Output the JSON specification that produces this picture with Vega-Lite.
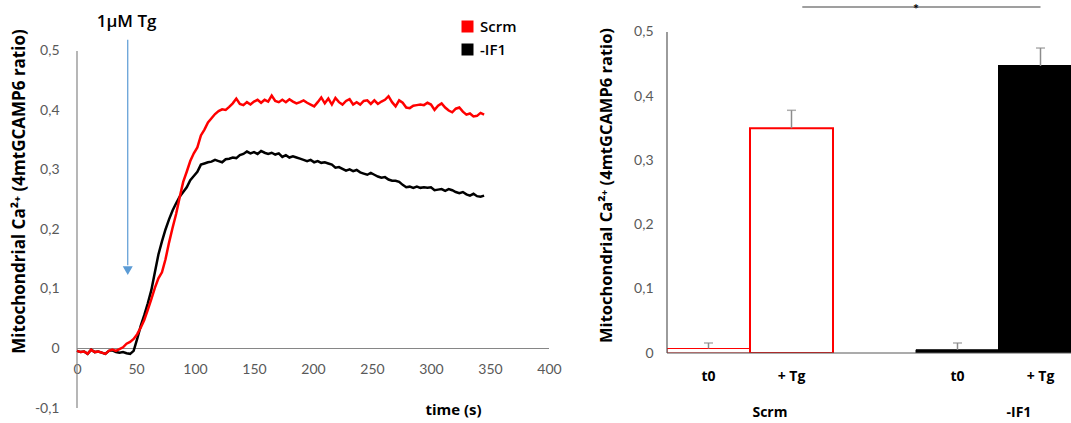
{
  "$schema": "https://vega.github.io/schema/vega-lite/v6.json",
  "padding": {"left": 10, "top": 0, "right": 0, "bottom": 0},
  "autosize": {"type": "pad"},
  "bounds": "flush",
  "spacing": 118,
  "config": {"view": {"stroke": null}, "font": "Lato"},
  "datasets": {
    "trace": [
      {"series":"-IF1","t":0,"v":-0.004},{"series":"-IF1","t":3,"v":-0.006},{"series":"-IF1","t":6,"v":-0.005},{"series":"-IF1","t":9,"v":-0.009},{"series":"-IF1","t":12,"v":-0.002},{"series":"-IF1","t":15,"v":-0.006},{"series":"-IF1","t":18,"v":-0.005},{"series":"-IF1","t":21,"v":-0.007},{"series":"-IF1","t":24,"v":-0.009},{"series":"-IF1","t":27,"v":-0.004},{"series":"-IF1","t":30,"v":-0.003},{"series":"-IF1","t":33,"v":-0.006},{"series":"-IF1","t":36,"v":-0.007},{"series":"-IF1","t":39,"v":-0.006},{"series":"-IF1","t":42,"v":-0.008},{"series":"-IF1","t":45,"v":-0.009},{"series":"-IF1","t":48,"v":-0.004},{"series":"-IF1","t":51,"v":0.016},{"series":"-IF1","t":54,"v":0.038},{"series":"-IF1","t":57,"v":0.056},{"series":"-IF1","t":60,"v":0.076},{"series":"-IF1","t":63,"v":0.098},{"series":"-IF1","t":66,"v":0.128},{"series":"-IF1","t":69,"v":0.158},{"series":"-IF1","t":72,"v":0.18},{"series":"-IF1","t":75,"v":0.2},{"series":"-IF1","t":78,"v":0.217},{"series":"-IF1","t":81,"v":0.232},{"series":"-IF1","t":84,"v":0.244},{"series":"-IF1","t":87,"v":0.255},{"series":"-IF1","t":90,"v":0.263},{"series":"-IF1","t":93,"v":0.271},{"series":"-IF1","t":96,"v":0.283},{"series":"-IF1","t":99,"v":0.29},{"series":"-IF1","t":102,"v":0.297},{"series":"-IF1","t":105,"v":0.309},{"series":"-IF1","t":108,"v":0.311},{"series":"-IF1","t":111,"v":0.313},{"series":"-IF1","t":114,"v":0.314},{"series":"-IF1","t":117,"v":0.317},{"series":"-IF1","t":120,"v":0.315},{"series":"-IF1","t":123,"v":0.313},{"series":"-IF1","t":126,"v":0.318},{"series":"-IF1","t":129,"v":0.319},{"series":"-IF1","t":132,"v":0.321},{"series":"-IF1","t":135,"v":0.32},{"series":"-IF1","t":138,"v":0.325},{"series":"-IF1","t":141,"v":0.327},{"series":"-IF1","t":144,"v":0.331},{"series":"-IF1","t":147,"v":0.328},{"series":"-IF1","t":150,"v":0.33},{"series":"-IF1","t":153,"v":0.327},{"series":"-IF1","t":156,"v":0.332},{"series":"-IF1","t":159,"v":0.329},{"series":"-IF1","t":162,"v":0.327},{"series":"-IF1","t":165,"v":0.329},{"series":"-IF1","t":168,"v":0.326},{"series":"-IF1","t":171,"v":0.328},{"series":"-IF1","t":174,"v":0.322},{"series":"-IF1","t":177,"v":0.325},{"series":"-IF1","t":180,"v":0.321},{"series":"-IF1","t":183,"v":0.323},{"series":"-IF1","t":186,"v":0.321},{"series":"-IF1","t":189,"v":0.319},{"series":"-IF1","t":192,"v":0.317},{"series":"-IF1","t":195,"v":0.315},{"series":"-IF1","t":198,"v":0.317},{"series":"-IF1","t":201,"v":0.313},{"series":"-IF1","t":204,"v":0.315},{"series":"-IF1","t":207,"v":0.312},{"series":"-IF1","t":210,"v":0.313},{"series":"-IF1","t":213,"v":0.311},{"series":"-IF1","t":216,"v":0.309},{"series":"-IF1","t":219,"v":0.304},{"series":"-IF1","t":222,"v":0.305},{"series":"-IF1","t":225,"v":0.302},{"series":"-IF1","t":228,"v":0.299},{"series":"-IF1","t":231,"v":0.301},{"series":"-IF1","t":234,"v":0.298},{"series":"-IF1","t":237,"v":0.3},{"series":"-IF1","t":240,"v":0.296},{"series":"-IF1","t":243,"v":0.294},{"series":"-IF1","t":246,"v":0.292},{"series":"-IF1","t":249,"v":0.295},{"series":"-IF1","t":252,"v":0.292},{"series":"-IF1","t":255,"v":0.289},{"series":"-IF1","t":258,"v":0.287},{"series":"-IF1","t":261,"v":0.288},{"series":"-IF1","t":264,"v":0.284},{"series":"-IF1","t":267,"v":0.282},{"series":"-IF1","t":270,"v":0.282},{"series":"-IF1","t":273,"v":0.28},{"series":"-IF1","t":276,"v":0.275},{"series":"-IF1","t":279,"v":0.271},{"series":"-IF1","t":282,"v":0.272},{"series":"-IF1","t":285,"v":0.27},{"series":"-IF1","t":288,"v":0.272},{"series":"-IF1","t":291,"v":0.27},{"series":"-IF1","t":294,"v":0.271},{"series":"-IF1","t":297,"v":0.27},{"series":"-IF1","t":300,"v":0.271},{"series":"-IF1","t":303,"v":0.266},{"series":"-IF1","t":306,"v":0.267},{"series":"-IF1","t":309,"v":0.268},{"series":"-IF1","t":312,"v":0.265},{"series":"-IF1","t":315,"v":0.268},{"series":"-IF1","t":318,"v":0.266},{"series":"-IF1","t":321,"v":0.263},{"series":"-IF1","t":324,"v":0.261},{"series":"-IF1","t":327,"v":0.263},{"series":"-IF1","t":330,"v":0.259},{"series":"-IF1","t":333,"v":0.257},{"series":"-IF1","t":336,"v":0.26},{"series":"-IF1","t":339,"v":0.256},{"series":"-IF1","t":342,"v":0.255},{"series":"-IF1","t":345,"v":0.257},
      {"series":"Scrm","t":0,"v":-0.004},{"series":"Scrm","t":3,"v":-0.006},{"series":"Scrm","t":6,"v":-0.005},{"series":"Scrm","t":9,"v":-0.009},{"series":"Scrm","t":12,"v":-0.002},{"series":"Scrm","t":15,"v":-0.006},{"series":"Scrm","t":18,"v":-0.005},{"series":"Scrm","t":21,"v":-0.007},{"series":"Scrm","t":24,"v":-0.009},{"series":"Scrm","t":27,"v":-0.004},{"series":"Scrm","t":30,"v":-0.002},{"series":"Scrm","t":33,"v":-0.004},{"series":"Scrm","t":36,"v":-0.001},{"series":"Scrm","t":39,"v":0.002},{"series":"Scrm","t":42,"v":0.008},{"series":"Scrm","t":45,"v":0.011},{"series":"Scrm","t":48,"v":0.016},{"series":"Scrm","t":51,"v":0.024},{"series":"Scrm","t":54,"v":0.035},{"series":"Scrm","t":57,"v":0.048},{"series":"Scrm","t":60,"v":0.065},{"series":"Scrm","t":63,"v":0.083},{"series":"Scrm","t":66,"v":0.102},{"series":"Scrm","t":69,"v":0.118},{"series":"Scrm","t":72,"v":0.128},{"series":"Scrm","t":75,"v":0.15},{"series":"Scrm","t":78,"v":0.178},{"series":"Scrm","t":81,"v":0.203},{"series":"Scrm","t":84,"v":0.226},{"series":"Scrm","t":87,"v":0.254},{"series":"Scrm","t":90,"v":0.28},{"series":"Scrm","t":93,"v":0.297},{"series":"Scrm","t":96,"v":0.315},{"series":"Scrm","t":99,"v":0.328},{"series":"Scrm","t":102,"v":0.338},{"series":"Scrm","t":105,"v":0.358},{"series":"Scrm","t":108,"v":0.368},{"series":"Scrm","t":111,"v":0.38},{"series":"Scrm","t":114,"v":0.387},{"series":"Scrm","t":117,"v":0.394},{"series":"Scrm","t":120,"v":0.399},{"series":"Scrm","t":123,"v":0.402},{"series":"Scrm","t":126,"v":0.401},{"series":"Scrm","t":129,"v":0.406},{"series":"Scrm","t":132,"v":0.412},{"series":"Scrm","t":135,"v":0.42},{"series":"Scrm","t":138,"v":0.411},{"series":"Scrm","t":141,"v":0.409},{"series":"Scrm","t":144,"v":0.414},{"series":"Scrm","t":147,"v":0.41},{"series":"Scrm","t":150,"v":0.415},{"series":"Scrm","t":153,"v":0.418},{"series":"Scrm","t":156,"v":0.413},{"series":"Scrm","t":159,"v":0.418},{"series":"Scrm","t":162,"v":0.415},{"series":"Scrm","t":165,"v":0.425},{"series":"Scrm","t":168,"v":0.416},{"series":"Scrm","t":171,"v":0.414},{"series":"Scrm","t":174,"v":0.418},{"series":"Scrm","t":177,"v":0.414},{"series":"Scrm","t":180,"v":0.419},{"series":"Scrm","t":183,"v":0.415},{"series":"Scrm","t":186,"v":0.412},{"series":"Scrm","t":189,"v":0.414},{"series":"Scrm","t":192,"v":0.417},{"series":"Scrm","t":195,"v":0.413},{"series":"Scrm","t":198,"v":0.41},{"series":"Scrm","t":201,"v":0.407},{"series":"Scrm","t":204,"v":0.414},{"series":"Scrm","t":207,"v":0.422},{"series":"Scrm","t":210,"v":0.412},{"series":"Scrm","t":213,"v":0.42},{"series":"Scrm","t":216,"v":0.41},{"series":"Scrm","t":219,"v":0.421},{"series":"Scrm","t":222,"v":0.414},{"series":"Scrm","t":225,"v":0.41},{"series":"Scrm","t":228,"v":0.416},{"series":"Scrm","t":231,"v":0.419},{"series":"Scrm","t":234,"v":0.41},{"series":"Scrm","t":237,"v":0.414},{"series":"Scrm","t":240,"v":0.41},{"series":"Scrm","t":243,"v":0.416},{"series":"Scrm","t":246,"v":0.417},{"series":"Scrm","t":249,"v":0.411},{"series":"Scrm","t":252,"v":0.417},{"series":"Scrm","t":255,"v":0.411},{"series":"Scrm","t":258,"v":0.415},{"series":"Scrm","t":261,"v":0.418},{"series":"Scrm","t":264,"v":0.424},{"series":"Scrm","t":267,"v":0.414},{"series":"Scrm","t":270,"v":0.407},{"series":"Scrm","t":273,"v":0.417},{"series":"Scrm","t":276,"v":0.413},{"series":"Scrm","t":279,"v":0.405},{"series":"Scrm","t":282,"v":0.404},{"series":"Scrm","t":285,"v":0.408},{"series":"Scrm","t":288,"v":0.409},{"series":"Scrm","t":291,"v":0.41},{"series":"Scrm","t":294,"v":0.409},{"series":"Scrm","t":297,"v":0.413},{"series":"Scrm","t":300,"v":0.41},{"series":"Scrm","t":303,"v":0.401},{"series":"Scrm","t":306,"v":0.408},{"series":"Scrm","t":309,"v":0.412},{"series":"Scrm","t":312,"v":0.405},{"series":"Scrm","t":315,"v":0.4},{"series":"Scrm","t":318,"v":0.397},{"series":"Scrm","t":321,"v":0.403},{"series":"Scrm","t":324,"v":0.405},{"series":"Scrm","t":327,"v":0.398},{"series":"Scrm","t":330,"v":0.393},{"series":"Scrm","t":333,"v":0.395},{"series":"Scrm","t":336,"v":0.39},{"series":"Scrm","t":339,"v":0.391},{"series":"Scrm","t":342,"v":0.396},{"series":"Scrm","t":345,"v":0.393}
    ],
    "bars": [
      {"key":"Scrm|t0","group":"Scrm","cond":"t0","value":0.007,"hi":0.0156},
      {"key":"Scrm|+Tg","group":"Scrm","cond":"+ Tg","value":0.35,"hi":0.378},
      {"key":"-IF1|t0","group":"-IF1","cond":"t0","value":0.005,"hi":0.0156},
      {"key":"-IF1|+Tg","group":"-IF1","cond":"+ Tg","value":0.447,"hi":0.475}
    ],
    "groups": [
      {"key":"Scrm|+Tg","label":"Scrm"},
      {"key":"-IF1|+Tg","label":"-IF1"}
    ],
    "sig": [
      {"from":"Scrm|+Tg","to":"-IF1|+Tg","mid":"-IF1|t0","label":"*"}
    ],
    "origin": [
      {"key":"Scrm|t0"}
    ]
  },
  "hconcat": [
    {
      "width": 472,
      "height": 408,
      "layer": [
        {
          "data": {"values": [{}]},
          "mark": {"type": "rule", "color": "#868686", "strokeWidth": 1.2},
          "encoding": {
            "x": {"datum": 0, "type": "quantitative"},
            "y": {"datum": -0.1, "type": "quantitative"},
            "y2": {"datum": 0.5}
          }
        },
        {
          "data": {"values": [{}]},
          "mark": {"type": "rule", "color": "#868686", "strokeWidth": 1.2},
          "encoding": {
            "x": {"datum": 0, "type": "quantitative"},
            "x2": {"datum": 400},
            "y": {"datum": 0, "type": "quantitative"}
          }
        },
        {
          "data": {"name": "trace"},
          "mark": {"type": "line", "strokeWidth": 2.5},
          "encoding": {
            "x": {
              "field": "t", "type": "quantitative",
              "scale": {"domain": [0, 400], "nice": false, "zero": false},
              "axis": {
                "values": [0, 50, 100, 150, 200, 250, 300, 350, 400],
                "domain": false, "ticks": false, "grid": false,
                "offset": -59.5, "labelPadding": 14, "labelFontSize": 14,
                "labelColor": "#595959", "labelOverlap": false, "labelFlush": false,
                "title": "time (s)", "titleX": 376, "titleY": 61, "titleFont": "Open Sans",
                "titleFontSize": 15, "titleFontWeight": "bold", "titleColor": "#000000",
                "titleAlign": "center", "titleBaseline": "middle"
              }
            },
            "y": {
              "field": "v", "type": "quantitative",
              "scale": {"domain": [-0.1, 0.5857], "nice": false, "zero": false},
              "axis": {
                "values": [-0.1, 0, 0.1, 0.2, 0.3, 0.4, 0.5],
                "domain": false, "ticks": false, "grid": false,
                "labelExpr": "datum.value == 0 ? '0' : (datum.value < 0 ? '-' : '') + replace(format(abs(datum.value), '.1f'), '.', ',')",
                "labelPadding": 18, "labelFontSize": 14, "labelColor": "#595959",
                "title": "Mitochondrial  Ca²⁺ (4mtGCAMP6 ratio)", "titleFont": "Open Sans",
                "titleFontSize": 17, "titleFontWeight": "bold", "titleColor": "#000000",
                "titleX": -58, "titleY": 191, "titleAngle": -90,
                "titleAlign": "center", "titleBaseline": "middle"
              }
            },
            "color": {
              "field": "series", "type": "nominal",
              "scale": {"domain": ["Scrm", "-IF1"], "range": ["#FF0000", "#000000"]},
              "legend": {
                "orient": "none", "legendX": 383, "legendY": 19, "title": null,
                "symbolType": "square", "symbolSize": 36, "symbolStrokeWidth": 6,
                "labelFont": "Open Sans", "labelFontSize": 15, "labelFontWeight": 600, "labelColor": "#000000",
                "labelOffset": 5, "rowPadding": -10
              }
            }
          }
        },
        {
          "data": {"values": [{}]},
          "mark": {"type": "rule", "color": "#5B9BD5", "strokeWidth": 1.2},
          "encoding": {
            "x": {"datum": 43, "type": "quantitative"},
            "y": {"datum": 0.519, "type": "quantitative"},
            "y2": {"datum": 0.14}
          }
        },
        {
          "data": {"values": [{}]},
          "mark": {"type": "point", "shape": "triangle-down", "filled": true, "color": "#5B9BD5", "size": 100, "opacity": 1},
          "encoding": {
            "x": {"datum": 43, "type": "quantitative"},
            "y": {"datum": 0.131, "type": "quantitative"}
          }
        },
        {
          "data": {"values": [{}]},
          "mark": {"type": "text", "text": "1µM Tg", "font": "Open Sans", "fontSize": 17, "fontWeight": 600, "color": "#000000", "align": "center", "baseline": "middle"},
          "encoding": {
            "x": {"datum": 42, "type": "quantitative"},
            "y": {"datum": 0.548, "type": "quantitative"}
          }
        }
      ]
    },
    {
      "width": 404,
      "height": 353,
      "layer": [
        {
          "data": {"name": "bars"},
          "mark": {"type": "bar", "clip": true},
          "encoding": {
            "x": {
              "field": "key", "type": "nominal",
              "scale": {"domain": ["Scrm|t0", "Scrm|+Tg", "gap", "-IF1|t0", "-IF1|+Tg"], "range": [0, 415], "paddingInner": 0, "paddingOuter": 0},
              "axis": {
                "values": ["Scrm|t0", "Scrm|+Tg", "-IF1|t0", "-IF1|+Tg"],
                "labelExpr": "indexof(datum.value, 't0') >= 0 ? 't0' : '+ Tg'",
                "domain": false, "ticks": false, "grid": false, "labelAngle": 0,
                "labelPadding": 16, "labelFont": "Open Sans", "labelFontSize": 14, "labelFontWeight": "bold", "labelColor": "#000000",
                "title": null
              }
            },
            "y": {
              "field": "value", "type": "quantitative",
              "scale": {"domain": [0, 0.5498], "nice": false},
              "axis": {
                "values": [0, 0.1, 0.2, 0.3, 0.4, 0.5],
                "domain": false, "ticks": false, "grid": false,
                "labelExpr": "datum.value == 0 ? '0' : (datum.value < 0 ? '-' : '') + replace(format(abs(datum.value), '.1f'), '.', ',')",
                "labelPadding": 14, "labelFontSize": 14, "labelColor": "#595959",
                "title": "Mitochondrial  Ca²⁺ (4mtGCAMP6 ratio)", "titleFont": "Open Sans",
                "titleFontSize": 16.5, "titleFontWeight": "bold", "titleColor": "#000000",
                "titleX": -61, "titleY": 185, "titleAngle": -90,
                "titleAlign": "center", "titleBaseline": "middle"
              }
            },
            "fill": {"field": "group", "type": "nominal", "scale": {"domain": ["Scrm", "-IF1"], "range": ["#FFFFFF", "#000000"]}, "legend": null},
            "stroke": {"field": "group", "type": "nominal", "scale": {"domain": ["Scrm", "-IF1"], "range": ["#FF0000", "#000000"]}, "legend": null},
            "strokeWidth": {"condition": {"test": "datum.value < 0.01", "value": 1}, "value": 2}
          }
        },
        {
          "data": {"name": "origin"},
          "mark": {"type": "rule", "color": "#595959", "strokeWidth": 1.2},
          "encoding": {
            "x": {"field": "key", "type": "nominal", "bandPosition": 0},
            "y": {"datum": 0, "type": "quantitative"},
            "y2": {"datum": 0.5}
          }
        },
        {
          "data": {"values": [{}]},
          "mark": {"type": "rule", "color": "#595959", "strokeWidth": 1.2},
          "encoding": {
            "y": {"datum": 0, "type": "quantitative"}
          }
        },
        {
          "data": {"name": "bars"},
          "mark": {"type": "rule", "color": "#8C8C8C", "strokeWidth": 1.5, "clip": true},
          "encoding": {
            "x": {"field": "key", "type": "nominal"},
            "y": {"field": "value", "type": "quantitative"},
            "y2": {"field": "hi"}
          }
        },
        {
          "data": {"name": "bars"},
          "mark": {"type": "tick", "orient": "horizontal", "color": "#8C8C8C", "size": 9, "thickness": 1.5, "clip": true},
          "encoding": {
            "x": {"field": "key", "type": "nominal"},
            "y": {"field": "hi", "type": "quantitative"}
          }
        },
        {
          "data": {"name": "sig"},
          "mark": {"type": "rule", "color": "#7F7F7F", "strokeWidth": 1.5},
          "encoding": {
            "x": {"field": "from", "type": "nominal", "bandPosition": 0.63},
            "x2": {"field": "to"},
            "y": {"datum": 0.539, "type": "quantitative"}
          }
        },
        {
          "data": {"name": "sig"},
          "mark": {"type": "text", "fontSize": 14, "fontWeight": "bold", "color": "#000000", "align": "center", "baseline": "top"},
          "encoding": {
            "x": {"field": "mid", "type": "nominal", "bandPosition": 0},
            "y": {"datum": 0.545, "type": "quantitative"},
            "text": {"field": "label"}
          }
        },
        {
          "data": {"name": "groups"},
          "mark": {"type": "text", "font": "Open Sans", "fontSize": 14, "fontWeight": "bold", "color": "#000000", "align": "center", "baseline": "middle"},
          "encoding": {
            "x": {"field": "key", "type": "nominal", "bandPosition": 0.24},
            "y": {"datum": -0.0935, "type": "quantitative"},
            "text": {"field": "label"}
          }
        }
      ]
    }
  ]
}
